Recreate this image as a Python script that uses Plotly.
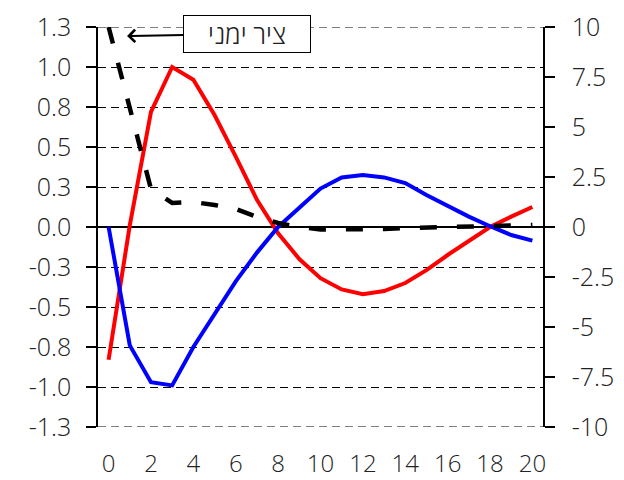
import plotly.graph_objects as go

x = list(range(21))
red = [-0.83, 0.01, 0.72, 1.0, 0.92, 0.70, 0.44, 0.17, -0.04, -0.20, -0.32,
       -0.39, -0.42, -0.40, -0.35, -0.27, -0.175, -0.09, 0.0, 0.065, 0.125]
blue = [0.0, -0.74, -0.97, -0.99, -0.75, -0.55, -0.34, -0.16, 0.0, 0.12, 0.24,
        0.31, 0.325, 0.31, 0.275, 0.20, 0.13, 0.065, 0.005, -0.05, -0.085]
black_right = [10.0, 5.9, 1.9, 1.2, 1.25, 1.1, 0.9, 0.5, 0.2, 0.0, -0.12,
               -0.12, -0.12, -0.1, -0.05, -0.02, 0.0, 0.05, 0.08, 0.1, 0.1]

left_vals = [-1.25, -1.0, -0.75, -0.5, -0.25, 0.0, 0.25, 0.5, 0.75, 1.0, 1.25]
left_text = ["-1.3", "-1.0", "-0.8", "-0.5", "-0.3", "0.0", "0.3", "0.5", "0.8", "1.0", "1.3"]
right_vals = [-10, -7.5, -5, -2.5, 0, 2.5, 5, 7.5, 10]
right_text = ["-10", "-7.5", "-5", "-2.5", "0", "2.5", "5", "7.5", "10"]
x_ticks = list(range(0, 21, 2))
annot_text = "ציר ימני"

font = dict(family="Open Sans", size=25, color="#222222", weight=300)
xfont = dict(family="Open Sans", size=24, color="#222222", weight=300)

fig = go.Figure()
fig.add_trace(go.Scatter(x=x, y=red, mode="lines", line=dict(color="#ff0000", width=4),
                         showlegend=False, yaxis="y"))
fig.add_trace(go.Scatter(x=x, y=blue, mode="lines", line=dict(color="#0000ff", width=4),
                         showlegend=False, yaxis="y"))
fig.add_trace(go.Scatter(x=x, y=black_right, mode="lines",
                         line=dict(color="#000000", width=4.5, dash="17px,20px"),
                         showlegend=False, yaxis="y2"))

grid_style = dict(color="#000000", width=1, dash="8px,5px")
for v in (left_vals[0], left_vals[-1]):
    fig.add_shape(type="line", xref="paper", yref="y", x0=0, x1=1, y0=v, y1=v,
                  line=grid_style, layer="below")

fig.update_layout(
    width=624, height=480,
    margin=dict(l=98, r=81, t=27, b=53),
    paper_bgcolor="white", plot_bgcolor="white",
    font=font,
    xaxis=dict(range=[-0.5, 20.5], tickvals=x_ticks, ticktext=[str(v) for v in x_ticks],
               showgrid=False, zeroline=False, showline=False, ticks="",
               ticklabelstandoff=20, tickfont=xfont, automargin=False),
    yaxis=dict(range=[-1.25, 1.25], tickvals=left_vals, ticktext=left_text,
               showgrid=True, gridcolor="#000000", gridwidth=1, griddash="8px,5px",
               zeroline=True, zerolinecolor="#000000", zerolinewidth=1.5,
               showline=True, linecolor="#000000", linewidth=1.5,
               ticks="outside", ticklen=10, tickcolor="#000000", tickwidth=1.5,
               ticklabelstandoff=10, tickfont=font, automargin=False),
    yaxis2=dict(range=[-10, 10], tickvals=right_vals, ticktext=right_text,
                overlaying="y", side="right", showgrid=False, zeroline=False,
                showline=True, linecolor="#000000", linewidth=1.5,
                ticks="outside", ticklen=10, tickcolor="#000000", tickwidth=1.5,
                ticklabelstandoff=12, tickfont=font, automargin=False),
    annotations=[dict(
        x=0.87, y=9.55, xref="x", yref="y2", text=annot_text,
        showarrow=True, arrowhead=4, arrowsize=1.2, arrowwidth=2, arrowcolor="#000000",
        ax=120, ay=-2, axref="pixel", ayref="pixel",
        bgcolor="white", bordercolor="#000000", borderwidth=1, borderpad=4,
        width=118, height=28,
        font=dict(family="Open Sans", size=26, color="#222222", weight=300),
    )],
)

fig.write_html("out.html")
